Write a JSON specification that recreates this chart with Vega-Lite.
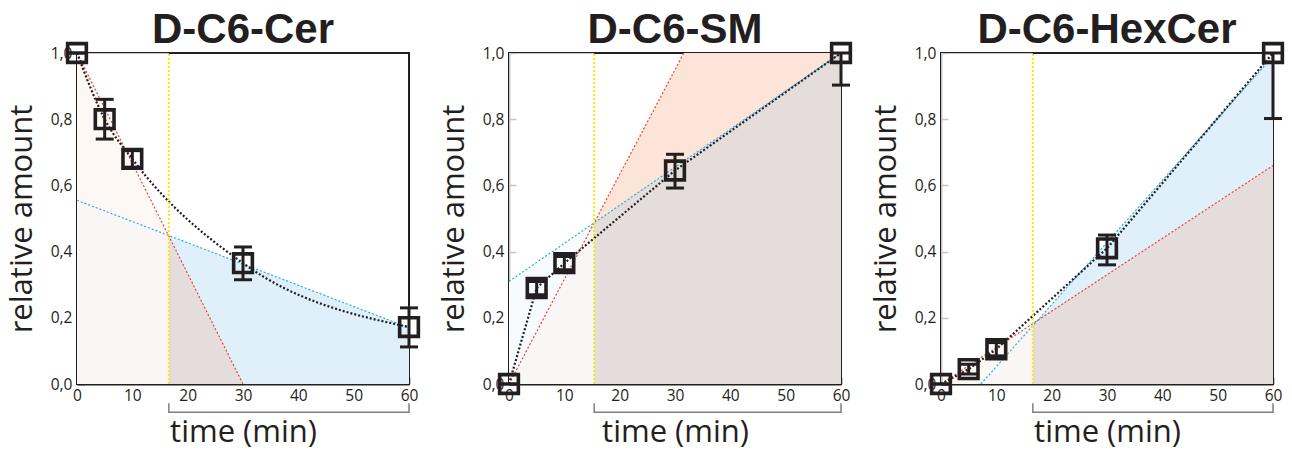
{
  "$schema": "https://vega.github.io/schema/vega-lite/v6.json",
  "background": "white",
  "padding": {"left": 5, "top": 8, "right": 5, "bottom": 5},
  "bounds": "flush",
  "spacing": 100,
  "config": {
    "view": {"stroke": "#231f20", "strokeWidth": 2},
    "axis": {
      "grid": false,
      "domainColor": "#231f20",
      "domainWidth": 2,
      "tickColor": "#231f20",
      "tickWidth": 1.5,
      "tickSize": -7,
      "labelFont": "Open Sans",
      "labelFontSize": 15.5,
      "labelColor": "#231f20",
      "titleFont": "Open Sans",
      "titleFontSize": 31,
      "titleFontWeight": "normal",
      "titleColor": "#231f20"
    },
    "axisX": {"labelPadding": 11, "titlePadding": 14, "labelFlush": false},
    "axisY": {"labelPadding": 12, "titlePadding": 12, "labelFlush": false},
    "title": {"font": "Liberation Sans", "fontSize": 42, "fontWeight": "bold", "color": "#231f20", "anchor": "middle", "frame": "group", "offset": -16}
  },
  "datasets": {
    "cer_pts": [
      {"t": 0, "v": 1.0, "lo": 1.0, "hi": 1.0},
      {"t": 5, "v": 0.80, "lo": 0.74, "hi": 0.86},
      {"t": 10, "v": 0.68, "lo": 0.655, "hi": 0.705},
      {"t": 30, "v": 0.365, "lo": 0.315, "hi": 0.414},
      {"t": 60, "v": 0.172, "lo": 0.112, "hi": 0.23}
    ],
    "cer_red": [{"t": 0, "v": 1.0}, {"t": 30, "v": 0.0}],
    "cer_redA": [{"t": 0, "v": 1.0}, {"t": 30, "v": 0.0}],
    "cer_blue": [{"t": 0, "v": 0.555}, {"t": 60, "v": 0.17}],
    "cer_both": [{"t": 0, "v": 0.555}, {"t": 16.5, "v": 0.449}, {"t": 30, "v": 0.0}],
    "cer_wh": [{"t": 0, "v": 1}, {"t": 16.6, "v": 1}],
    "cer_yl": [{"t": 16.6, "v": 0}, {"t": 16.6, "v": 1}],
    "cer_br": [{"k": 1, "t": 16.6, "v": -0.058}, {"k": 2, "t": 16.6, "v": -0.085}, {"k": 3, "t": 60, "v": -0.085}, {"k": 4, "t": 60, "v": -0.058}],
    "sm_pts": [
      {"t": 0, "v": 0.0, "lo": 0.0, "hi": 0.0},
      {"t": 5, "v": 0.29, "lo": 0.27, "hi": 0.31},
      {"t": 10, "v": 0.365, "lo": 0.345, "hi": 0.385},
      {"t": 30, "v": 0.645, "lo": 0.592, "hi": 0.694},
      {"t": 60, "v": 1.0, "lo": 0.903, "hi": 1.0}
    ],
    "sm_red": [{"t": 0, "v": 0.0}, {"t": 31.6, "v": 1.0}],
    "sm_redA": [{"t": 0, "v": 0.0}, {"t": 31.6, "v": 1.0}, {"t": 60, "v": 1.0}],
    "sm_blue": [{"t": 0, "v": 0.31}, {"t": 60, "v": 1.0}],
    "sm_both": [{"t": 0, "v": 0.0}, {"t": 15.4, "v": 0.487}, {"t": 60, "v": 1.0}],
    "sm_wh": [{"t": 0, "v": 1}, {"t": 15.4, "v": 1}],
    "sm_yl": [{"t": 15.4, "v": 0}, {"t": 15.4, "v": 1}],
    "sm_br": [{"k": 1, "t": 15.4, "v": -0.058}, {"k": 2, "t": 15.4, "v": -0.085}, {"k": 3, "t": 60, "v": -0.085}, {"k": 4, "t": 60, "v": -0.058}],
    "hex_pts": [
      {"t": 0, "v": 0.0, "lo": 0.0, "hi": 0.0},
      {"t": 5, "v": 0.045, "lo": 0.03, "hi": 0.06},
      {"t": 10, "v": 0.105, "lo": 0.085, "hi": 0.125},
      {"t": 30, "v": 0.41, "lo": 0.36, "hi": 0.45},
      {"t": 60, "v": 1.0, "lo": 0.802, "hi": 1.0}
    ],
    "hex_red": [{"t": 0, "v": 0.0}, {"t": 60, "v": 0.66}],
    "hex_redA": [{"t": 0, "v": 0.0}, {"t": 60, "v": 0.66}],
    "hex_blue": [{"t": 7.2, "v": 0.0}, {"t": 60, "v": 0.99}],
    "hex_both": [{"t": 7.2, "v": 0.0}, {"t": 17.2, "v": 0.19}, {"t": 60, "v": 0.66}],
    "hex_wh": [{"t": 0, "v": 1}, {"t": 16.6, "v": 1}],
    "hex_yl": [{"t": 16.6, "v": 0}, {"t": 16.6, "v": 1}],
    "hex_br": [{"k": 1, "t": 16.6, "v": -0.058}, {"k": 2, "t": 16.6, "v": -0.085}, {"k": 3, "t": 60, "v": -0.085}, {"k": 4, "t": 60, "v": -0.058}]
  },
  "hconcat": [
    {
      "width": 332, "height": 331,
      "title": {"text": "D-C6-Cer"},
      "encoding": {
        "x": {"field": "t", "type": "quantitative", "title": "time (min)", "scale": {"domain": [0, 60], "nice": false, "zero": false}, "axis": {"values": [0, 10, 20, 30, 40, 50, 60]}},
        "y": {"field": "v", "type": "quantitative", "title": "relative amount", "scale": {"domain": [0, 1], "nice": false}, "axis": {"values": [0, 0.2, 0.4, 0.6, 0.8, 1], "labelExpr": "replace(format(datum.value, '.1f'), '.', ',')"}}
      },
      "layer": [
        {"data": {"name": "cer_redA"}, "mark": {"type": "area", "fill": "#fce4d8", "fillOpacity": 1}},
        {"data": {"name": "cer_blue"}, "mark": {"type": "area", "fill": "#dff0fb", "fillOpacity": 1}},
        {"data": {"name": "cer_both"}, "mark": {"type": "area", "fill": "#e4dddb", "fillOpacity": 1}},
        {"data": {"name": "cer_wh"}, "mark": {"type": "area", "fill": "#ffffff", "fillOpacity": 0.75}},
        {"data": {"name": "cer_red"}, "mark": {"type": "line", "color": "#ef4136", "strokeWidth": 1.2, "strokeDash": [2, 2]}},
        {"data": {"name": "cer_blue"}, "mark": {"type": "line", "color": "#29abe2", "strokeWidth": 1.2, "strokeDash": [2, 2]}},
        {"data": {"name": "cer_pts"}, "mark": {"type": "line", "color": "#231f20", "strokeWidth": 2.2, "strokeDash": [2, 2], "interpolate": "monotone"}},
        {"data": {"name": "cer_yl"}, "mark": {"type": "line", "color": "#ffe800", "strokeWidth": 2, "strokeDash": [2, 2]}},
        {"data": {"name": "cer_br"}, "mark": {"type": "line", "color": "#808080", "strokeWidth": 1.5}, "encoding": {"order": {"field": "k", "type": "quantitative"}}},
        {"data": {"name": "cer_pts"}, "mark": {"type": "rule", "color": "#231f20", "strokeWidth": 3},
         "encoding": {"y": {"field": "lo", "type": "quantitative", "title": "relative amount"}, "y2": {"field": "hi"}}},
        {"data": {"name": "cer_pts"}, "mark": {"type": "tick", "orient": "horizontal", "color": "#231f20", "size": 18, "thickness": 3, "opacity": 1},
         "encoding": {"y": {"field": "lo", "type": "quantitative", "title": "relative amount"}}},
        {"data": {"name": "cer_pts"}, "mark": {"type": "tick", "orient": "horizontal", "color": "#231f20", "size": 18, "thickness": 3, "opacity": 1},
         "encoding": {"y": {"field": "hi", "type": "quantitative", "title": "relative amount"}}},
        {"data": {"name": "cer_pts"}, "mark": {"type": "point", "shape": "square", "size": 350, "filled": false, "stroke": "#231f20", "strokeWidth": 3.6, "opacity": 1}}
      ]
    },
    {
      "width": 332, "height": 331,
      "title": {"text": "D-C6-SM"},
      "encoding": {
        "x": {"field": "t", "type": "quantitative", "title": "time (min)", "scale": {"domain": [0, 60], "nice": false, "zero": false}, "axis": {"values": [0, 10, 20, 30, 40, 50, 60]}},
        "y": {"field": "v", "type": "quantitative", "title": "relative amount", "scale": {"domain": [0, 1], "nice": false}, "axis": {"values": [0, 0.2, 0.4, 0.6, 0.8, 1], "labelExpr": "replace(format(datum.value, '.1f'), '.', ',')"}}
      },
      "layer": [
        {"data": {"name": "sm_redA"}, "mark": {"type": "area", "fill": "#fce4d8", "fillOpacity": 1}},
        {"data": {"name": "sm_blue"}, "mark": {"type": "area", "fill": "#dff0fb", "fillOpacity": 1}},
        {"data": {"name": "sm_both"}, "mark": {"type": "area", "fill": "#e4dddb", "fillOpacity": 1}},
        {"data": {"name": "sm_wh"}, "mark": {"type": "area", "fill": "#ffffff", "fillOpacity": 0.75}},
        {"data": {"name": "sm_red"}, "mark": {"type": "line", "color": "#ef4136", "strokeWidth": 1.2, "strokeDash": [2, 2]}},
        {"data": {"name": "sm_blue"}, "mark": {"type": "line", "color": "#29abe2", "strokeWidth": 1.2, "strokeDash": [2, 2]}},
        {"data": {"name": "sm_pts"}, "mark": {"type": "line", "color": "#231f20", "strokeWidth": 2.2, "strokeDash": [2, 2]}},
        {"data": {"name": "sm_yl"}, "mark": {"type": "line", "color": "#ffe800", "strokeWidth": 2, "strokeDash": [2, 2]}},
        {"data": {"name": "sm_br"}, "mark": {"type": "line", "color": "#808080", "strokeWidth": 1.5}, "encoding": {"order": {"field": "k", "type": "quantitative"}}},
        {"data": {"name": "sm_pts"}, "mark": {"type": "rule", "color": "#231f20", "strokeWidth": 3},
         "encoding": {"y": {"field": "lo", "type": "quantitative", "title": "relative amount"}, "y2": {"field": "hi"}}},
        {"data": {"name": "sm_pts"}, "mark": {"type": "tick", "orient": "horizontal", "color": "#231f20", "size": 18, "thickness": 3, "opacity": 1},
         "encoding": {"y": {"field": "lo", "type": "quantitative", "title": "relative amount"}}},
        {"data": {"name": "sm_pts"}, "mark": {"type": "tick", "orient": "horizontal", "color": "#231f20", "size": 18, "thickness": 3, "opacity": 1},
         "encoding": {"y": {"field": "hi", "type": "quantitative", "title": "relative amount"}}},
        {"data": {"name": "sm_pts"}, "mark": {"type": "point", "shape": "square", "size": 350, "filled": false, "stroke": "#231f20", "strokeWidth": 3.6, "opacity": 1}}
      ]
    },
    {
      "width": 332, "height": 331,
      "title": {"text": "D-C6-HexCer"},
      "encoding": {
        "x": {"field": "t", "type": "quantitative", "title": "time (min)", "scale": {"domain": [0, 60], "nice": false, "zero": false}, "axis": {"values": [0, 10, 20, 30, 40, 50, 60]}},
        "y": {"field": "v", "type": "quantitative", "title": "relative amount", "scale": {"domain": [0, 1], "nice": false}, "axis": {"values": [0, 0.2, 0.4, 0.6, 0.8, 1], "labelExpr": "replace(format(datum.value, '.1f'), '.', ',')"}}
      },
      "layer": [
        {"data": {"name": "hex_redA"}, "mark": {"type": "area", "fill": "#fce4d8", "fillOpacity": 1}},
        {"data": {"name": "hex_blue"}, "mark": {"type": "area", "fill": "#dff0fb", "fillOpacity": 1}},
        {"data": {"name": "hex_both"}, "mark": {"type": "area", "fill": "#e4dddb", "fillOpacity": 1}},
        {"data": {"name": "hex_wh"}, "mark": {"type": "area", "fill": "#ffffff", "fillOpacity": 0.75}},
        {"data": {"name": "hex_red"}, "mark": {"type": "line", "color": "#ef4136", "strokeWidth": 1.2, "strokeDash": [2, 2]}},
        {"data": {"name": "hex_blue"}, "mark": {"type": "line", "color": "#29abe2", "strokeWidth": 1.2, "strokeDash": [2, 2]}},
        {"data": {"name": "hex_pts"}, "mark": {"type": "line", "color": "#231f20", "strokeWidth": 2.2, "strokeDash": [2, 2]}},
        {"data": {"name": "hex_yl"}, "mark": {"type": "line", "color": "#ffe800", "strokeWidth": 2, "strokeDash": [2, 2]}},
        {"data": {"name": "hex_br"}, "mark": {"type": "line", "color": "#808080", "strokeWidth": 1.5}, "encoding": {"order": {"field": "k", "type": "quantitative"}}},
        {"data": {"name": "hex_pts"}, "mark": {"type": "rule", "color": "#231f20", "strokeWidth": 3},
         "encoding": {"y": {"field": "lo", "type": "quantitative", "title": "relative amount"}, "y2": {"field": "hi"}}},
        {"data": {"name": "hex_pts"}, "mark": {"type": "tick", "orient": "horizontal", "color": "#231f20", "size": 18, "thickness": 3, "opacity": 1},
         "encoding": {"y": {"field": "lo", "type": "quantitative", "title": "relative amount"}}},
        {"data": {"name": "hex_pts"}, "mark": {"type": "tick", "orient": "horizontal", "color": "#231f20", "size": 18, "thickness": 3, "opacity": 1},
         "encoding": {"y": {"field": "hi", "type": "quantitative", "title": "relative amount"}}},
        {"data": {"name": "hex_pts"}, "mark": {"type": "point", "shape": "square", "size": 350, "filled": false, "stroke": "#231f20", "strokeWidth": 3.6, "opacity": 1}}
      ]
    }
  ]
}
